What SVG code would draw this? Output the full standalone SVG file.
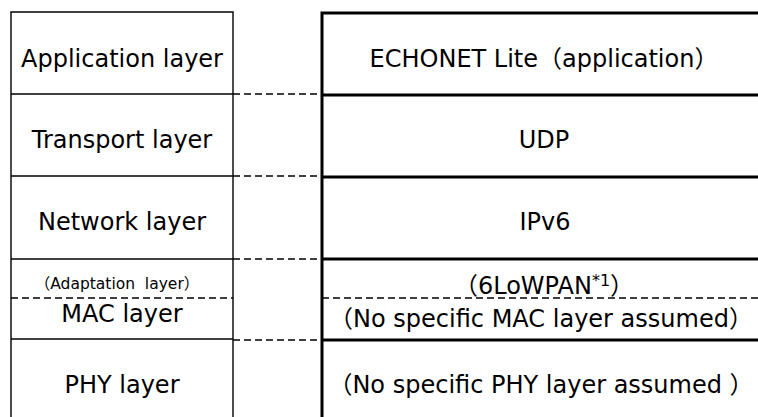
<svg xmlns="http://www.w3.org/2000/svg" width="758" height="417" viewBox="0 0 758 417">
<style>
  text { font-family: "DejaVu Sans", "Noto Sans CJK JP", sans-serif; font-size: 24px; fill: #000; text-anchor: middle; white-space: pre; }
  .small { font-size: 15.5px; }
  .thin { stroke: #000; stroke-width: 1.4; fill: none; }
  .thick { stroke: #000; stroke-width: 3; fill: none; }
  .dash { stroke: #000; stroke-width: 1.4; stroke-dasharray: 7 4; fill: none; }
</style>
<rect width="758" height="417" fill="#fff"/>
<g id="left-stack">
  <path class="thin" d="M11 417 V12 H233 V417"/>
  <g id="app-layer"><path class="thin" d="M11 94 H233"/><text x="122" y="67">Application layer</text></g>
  <g id="transport-layer"><path class="thin" d="M11 176 H233"/><text x="122" y="148">Transport layer</text></g>
  <g id="network-layer"><path class="thin" d="M11 259 H233"/><text x="122" y="230">Network layer</text></g>
  <g id="adaptation-layer"><path class="dash" d="M11 298 H233"/><text class="small" x="117" y="289" xml:space="preserve">（Adaptation  layer）</text></g>
  <g id="mac-layer"><path class="thin" d="M11 339 H233"/><text x="122" y="322">MAC layer</text></g>
  <g id="phy-layer"><text x="122" y="393">PHY layer</text></g>
</g>
<g id="right-stack">
  <path class="thick" d="M322 417 V13 H758"/>
  <g id="echonet"><path class="thick" d="M322 95 H758"/><text x="544" y="67">ECHONET Lite（application）</text></g>
  <g id="udp"><path class="thick" d="M322 177 H758"/><text x="544" y="148">UDP</text></g>
  <g id="ipv6"><path class="thick" d="M322 259 H758"/><text x="545" y="230">IPv6</text></g>
  <g id="lowpan"><path class="dash" d="M322 298 H758"/><text x="544" y="294">（6LoWPAN<tspan font-size="16" dy="-8">*1</tspan><tspan dy="8">）</tspan></text></g>
  <g id="mac-none"><path class="thick" d="M322 340 H758"/><text x="541" y="327">（No specific MAC layer assumed）</text></g>
  <g id="phy-none"><text x="541" y="393">（No specific PHY layer assumed ）</text></g>
</g>
<g id="connectors">
  <path class="dash" d="M233 94 H322"/>
  <path class="dash" d="M233 176 H322"/>
  <path class="dash" d="M233 259 H322"/>
  <path class="dash" d="M233 340 H322"/>
</g>
</svg>
